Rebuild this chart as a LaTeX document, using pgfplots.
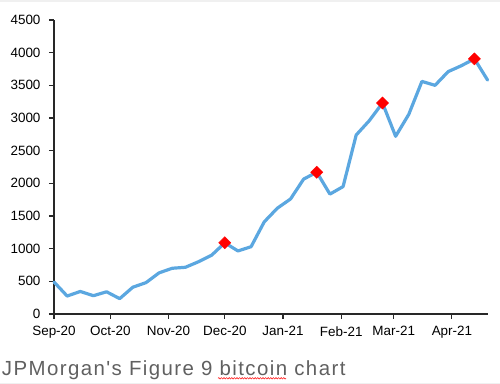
\documentclass[border=0pt]{standalone}
\usepackage{pgfplots}
\pgfplotsset{compat=1.18}
\usepackage{fontspec}
\setmainfont{Liberation Sans}
\newfontfamily\capfont[LetterSpace=7]{Liberation Sans}
\usetikzlibrary{decorations.pathmorphing}
\definecolor{lineblue}{RGB}{91,167,224}
\definecolor{axisgray}{RGB}{40,40,40}
\definecolor{capgray}{RGB}{96,96,96}
\pgfplotstableread{
day value
0 490
7 275
14 345
21 280
28 340
35 235
42 410
49 480
56 630
63 700
70 715
77 800
84 900
91 1090
98 965
105 1030
112 1410
119 1620
126 1760
133 2065
140 2170
147 1835
154 1950
161 2740
168 2960
175 3230
182 2720
189 3055
196 3560
203 3500
210 3710
217 3800
224 3905
231 3580
}\btcdata
\pgfplotstableread{
day value
91 1090
140 2170
175 3230
224 3905
}\markdata
\begin{document}
\begin{tikzpicture}
\fill[gray!12] (0,381.5bp) rectangle (500bp,384bp);
\fill[gray!12] (0,0) rectangle (500bp,1.5bp);
\begin{axis}[
  at={(54bp,70bp)}, anchor=south west,
  scale only axis, width=433.6bp, height=294bp,
  xmin=0, xmax=231, ymin=0, ymax=4500,
  axis x line=bottom, axis y line=left,
  axis line style={-, axisgray, line width=1.2bp},
  tick style={axisgray, line width=1.1bp},
  tick align=outside, major tick length=5bp,
  xtick={0,30,61,91,122,153,181,212},
  xticklabels={Sep-20,Oct-20,Nov-20,Dec-20,Jan-21,Feb-21,Mar-21,Apr-21},
  ytick={0,500,...,4500},
  ticklabel style={font=\fontsize{13.5}{15}\selectfont, text=black},
  /pgf/number format/assume math mode=true,
  /pgf/number format/1000 sep={},
  yticklabel style={xshift=-5bp},
  xticklabel style={yshift=-4bp},
  clip=false,
]
\addplot[lineblue, line width=3.2bp, line join=round, line cap=round] table[x=day,y=value] {\btcdata};
\addplot[only marks, mark=square*, mark size=4.3bp, mark options={fill=red, draw=red, rotate=45}] table[x=day,y=value] {\markdata};
\end{axis}
\node[anchor=base west, text=capgray, inner sep=0pt, font=\capfont\fontsize{20.5}{24}\selectfont] at (1.7bp,8.3bp) {JPMorgan's Figure 9 bitcoin chart};
\draw[red!85, line width=0.6bp, decorate, decoration={snake, amplitude=0.7bp, segment length=2.6bp}] (218bp,5.7bp) -- (286bp,5.7bp);
\pgfresetboundingbox
\path[use as bounding box] (0,0) rectangle (500bp,384bp);
\end{tikzpicture}
\end{document}
